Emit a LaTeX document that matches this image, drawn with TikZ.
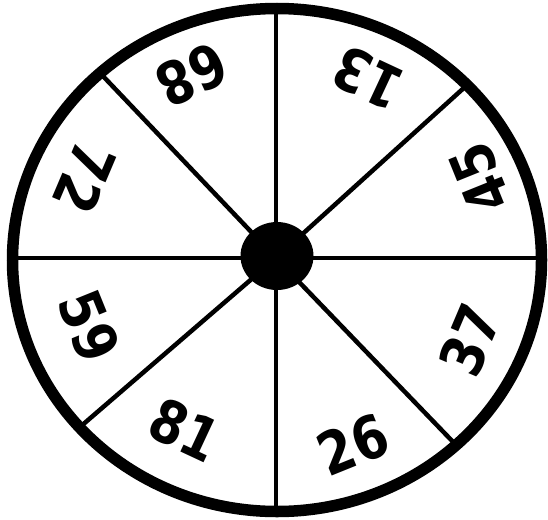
\documentclass[tikz,border=0pt]{standalone}
\usepackage{fontspec}
\setmainfont{DejaVu Sans}
\newfontfamily\numfont[FakeStretch=0.85]{DejaVu Sans Bold}
\tikzset{
  rim/.style={line width=11.5pt, draw=black},
  spoke/.style={line width=4.5pt, draw=black},
  hub/.style={fill=black},
  num/.style={inner sep=0pt, font=\numfont\fontsize{59}{60}\selectfont}
}
\begin{document}
\begin{tikzpicture}[x=1pt, y=-1pt]
\useasboundingbox (0,0) rectangle (548,519);
\coordinate (c) at (276,258);
\coordinate (t) at (276,8);
\coordinate (b) at (276,511);
\coordinate (l) at (10,258);
\coordinate (r) at (543,258);
\coordinate (ul) at (101,74);
\coordinate (ur) at (466,86);
\coordinate (ll) at (80,427);
\coordinate (lr) at (456,445);
\foreach \p in {t,b,l,r,ul,ur,ll,lr} \draw[spoke] (c) -- (\p);
\draw[rim] (277,260) ellipse [x radius=264.5, y radius=251.5];
\fill[hub] (277,256) ellipse [x radius=36.5, y radius=34];
\node[num, rotate=155] (n13) at (368,78) {13};
\node[num, rotate=112] (n45) at (480,178) {45};
\node[num, rotate=67] (n37) at (470,340) {37};
\node[num, rotate=22] (n26) at (353,445) {26};
\node[num, rotate=-25] (n81) at (185,430) {81};
\node[num, rotate=-68] (n59) at (89,326) {59};
\node[num, rotate=247] (n72) at (85,178) {72};
\node[num, rotate=205] (n68) at (192,75) {68};
\end{tikzpicture}
\end{document}
